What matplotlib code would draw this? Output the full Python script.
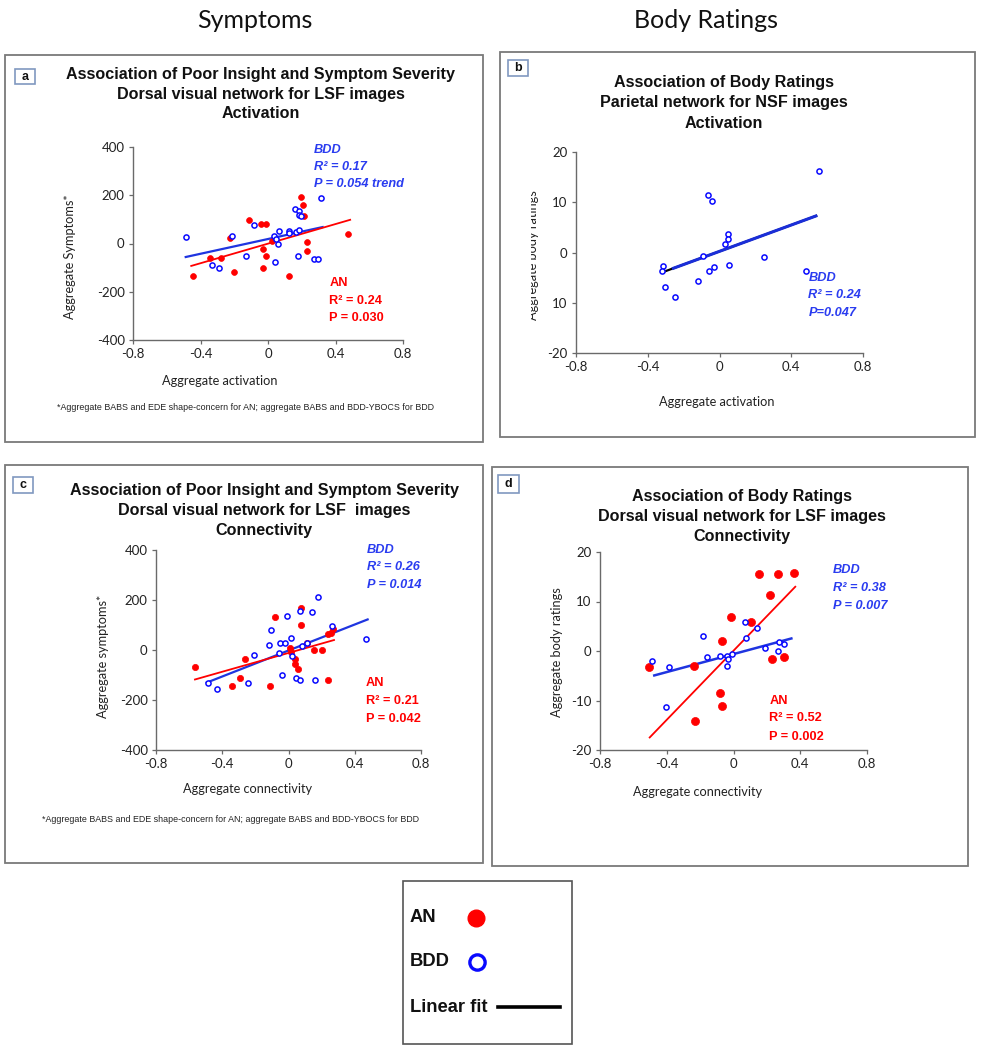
import matplotlib
matplotlib.use("Agg")
import matplotlib.pyplot as plt
import numpy as np
from matplotlib.patches import Rectangle
from matplotlib.lines import Line2D
import matplotlib.transforms as mtransforms

# ---------------- data ----------------
xticks_act = [-0.8, -0.4, 0, 0.4, 0.8]
xtick_labels = ["-0.8", "-0.4", "0", "0.4", "0.8"]
yticks_sym = [-400, -200, 0, 200, 400]
ytick_labels_sym = ["-400", "-200", "0", "200", "400"]
yticks_body = [-20, -10, 0, 10, 20]
ytick_labels_b = ["-20", "10", "0", "10", "20"]
ytick_labels_d = ["-20", "-10", "0", "10", "20"]

# panel a: activation vs symptoms
a_bdd_x = [-0.484, -0.213, -0.085, -0.130, -0.332, -0.292, 0.034, 0.040, 0.057, 0.067,
           0.122, 0.126, 0.168, 0.182, 0.158, 0.182, 0.186, 0.196, 0.178, 0.271, 0.296,
           0.316, 0.047]
a_bdd_y = [25, 32, 76, -52, -90, -103, 30, -77, 0, 51,
           51, 45, 48, 58, 141, 134, 117, 113, -52, -65, -65,
           188, 17]
a_an_x = [-0.444, -0.342, -0.277, -0.223, -0.203, -0.111, -0.040, -0.012, -0.032, -0.012,
          -0.030, 0.024, 0.122, 0.196, 0.205, 0.211, 0.231, 0.231, 0.474]
a_an_y = [-135, -62, -62, 21, -117, 97, 79, 79, -23, -51,
          -103, 10, -135, 193, 161, 114, 7, -30, 41]
a_bdd_fit = (153.0, 18.6, -0.494, 0.330)   # slope, intercept, x start, x end
a_an_fit = (203.0, -0.6, -0.460, 0.492)

# panel b: activation vs body ratings (BDD only)
b_bdd_x = [0.554, -0.065, -0.041, 0.046, 0.046, 0.028, -0.092, 0.249, 0.055, -0.031,
           -0.059, -0.314, -0.323, -0.305, -0.246, -0.120, 0.480]
b_bdd_y = [16.3, 11.5, 10.3, 3.6, 2.7, 1.6, -0.7, -0.9, -2.4, -2.9,
           -3.6, -2.7, -3.6, -6.9, -8.8, -5.7, -3.6]
b_bdd_fit = (13.1, 0.23, -0.323, 0.545)
b_blue_start = -0.265

# panel c: connectivity vs symptoms
c_bdd_x = [-0.486, -0.430, -0.246, -0.210, -0.116, -0.106, -0.056, -0.052, -0.020, -0.012,
           -0.040, 0.014, 0.024, 0.044, 0.068, 0.068, 0.084, 0.114, 0.140, 0.160,
           0.178, 0.264, 0.468]
c_bdd_y = [-130, -155, -130, -18, 20, 80, -11, 27, 30, 138,
           -99, 50, -22, -112, -119, 155, 16, 30, 151, -119,
           213, 95, 43]
c_an_x = [-0.566, -0.340, -0.292, -0.260, -0.112, -0.080, 0.010, 0.014, 0.038, 0.040,
          0.058, 0.074, 0.078, 0.114, 0.154, 0.204, 0.240, 0.254, 0.268, 0.240]
c_an_y = [-68, -143, -112, -35, -143, 134, 7, -7, -35, -54,
          -74, 100, 169, 27, 0, 0, 64, 70, 84, -119]
c_bdd_fit = (260.0, -2.0, -0.500, 0.484)
c_an_fit = (188.0, -11.8, -0.570, 0.280)

# panel d: connectivity vs body ratings
d_an_x = [-0.506, -0.236, -0.066, -0.016, -0.080, -0.070, -0.230, 0.104, 0.154, 0.264,
          0.364, 0.216, 0.228, 0.300]
d_an_y = [-3.2, -3.0, 2.1, 6.8, -8.4, -11.2, -14.1, 5.9, 15.5, 15.5,
          15.8, 11.4, -1.6, -1.3]
d_bdd_x = [-0.486, -0.386, -0.406, -0.182, -0.156, -0.080, -0.040, -0.036, -0.032, -0.006,
           0.070, 0.074, 0.140, 0.188, 0.268, 0.274, 0.300]
d_bdd_y = [-2.0, -3.2, -11.4, 3.0, -1.3, -1.0, -1.0, -3.0, -1.6, -0.7,
           5.8, 2.7, 4.6, 0.7, 0.1, 1.9, 1.4]
d_an_fit = (34.9, 0.06, -0.506, 0.374)
d_bdd_fit = (9.09, -0.62, -0.482, 0.354)

footnote = "*Aggregate BABS and EDE shape-concern for AN; aggregate BABS and BDD-YBOCS for BDD"

# ---------------- styling ----------------
RED = "#ff0000"
BLUE = "#0a0aff"
BLUE_TXT = "#2a3cf0"
BLUE_LINE = "#1f35e0"
ARIAL = "Liberation Sans"
CAL = "Lato"

plt.rcParams["font.family"] = [CAL, "DejaVu Sans"]

W, H = 983, 1050
fig = plt.figure(figsize=(W / 100, H / 100), dpi=100)
fig.patch.set_facecolor("white")


def fx(x):
    return x / W


def fy(y):
    return 1 - y / H


def add_box(x0, y0, x1, y1, ec="#7a7a7a", lw=1.3):
    fig.patches.append(Rectangle((fx(x0), fy(y1)), (x1 - x0) / W, (y1 - y0) / H,
                                 transform=fig.transFigure, fill=False, ec=ec, lw=lw))


def letter(x0, y0, x1, y1, s):
    fig.patches.append(Rectangle((fx(x0), fy(y1)), (x1 - x0) / W, (y1 - y0) / H,
                                 transform=fig.transFigure, fill=False, ec="#8098c0", lw=1.2))
    fig.text(fx((x0 + x1) / 2), fy((y0 + y1) / 2), s, ha="center", va="center",
             fontsize=9, fontweight="bold", family=ARIAL, color="#111")


def title(cx, ys, lines):
    for y, t in zip(ys, lines):
        fig.text(fx(cx), fy(y), t, ha="center", va="center", fontsize=11.6,
                 fontweight="bold", family=ARIAL, color="#111")


def make_ax(x0, y0, x1, y1, xlim, ylim, yticks, ylabels):
    ax = fig.add_axes([fx(x0), fy(y1), (x1 - x0) / W, (y1 - y0) / H])
    ax.set_xlim(*xlim)
    ax.set_ylim(*ylim)
    ax.set_xticks(xticks_act)
    ax.set_xticklabels(xtick_labels)
    ax.set_yticks(yticks)
    ax.set_yticklabels(ylabels)
    for s in ("top", "right"):
        ax.spines[s].set_visible(False)
    for s in ("left", "bottom"):
        ax.spines[s].set_color("#6a6a6a")
        ax.spines[s].set_linewidth(1.0)
    ax.tick_params(direction="out", length=3, width=0.9, color="#6a6a6a",
                   labelcolor="#222", labelsize=9.5, pad=3)
    ax.patch.set_alpha(0)
    return ax


def fitline(ax, fit, color, lw, zorder=2):
    slope, icpt, x0, x1 = fit
    xs = np.array([x0, x1])
    ax.plot(xs, slope * xs + icpt, color=color, lw=lw, zorder=zorder, solid_capstyle="butt")


def an_pts(ax, x, y, ms):
    ax.plot(x, y, ls="none", marker="o", ms=ms, mfc=RED, mec=RED, mew=0.5, zorder=3)


def bdd_pts(ax, x, y, ms):
    ax.plot(x, y, ls="none", marker="o", ms=ms, mfc="white", mec=BLUE, mew=1.1, zorder=3)


def stats(ax, x, ys, lines, color, italic):
    for y, t in zip(ys, lines):
        ax.text(x, y, t, ha="left", va="center", fontsize=9.2, fontweight="bold",
                style="italic" if italic else "normal", family=ARIAL, color=color)


# ---------------- headers ----------------
fig.text(fx(255), fy(21), "Symptoms", ha="center", va="center", fontsize=18, family=CAL, color="#111")
fig.text(fx(706), fy(21), "Body Ratings", ha="center", va="center", fontsize=18, family=CAL, color="#111")

# ---------------- panel boxes ----------------
add_box(5, 55, 483, 442)
add_box(500, 52, 975, 437)
add_box(5, 465, 483, 863)
add_box(492, 467, 968, 866)

letter(15, 69, 35, 84, "a")
letter(508, 60, 528, 76, "b")
letter(13, 477, 33, 493, "c")
letter(498, 475, 519, 493, "d")

title(261, [75, 95, 114], ["Association of Poor Insight and Symptom Severity",
                            "Dorsal visual network for LSF images", "Activation"])
title(724, [83, 103, 123], ["Association of Body Ratings",
                            "Parietal network for NSF images", "Activation"])
title(264, [491, 511, 530], ["Association of Poor Insight and Symptom Severity",
                             "Dorsal visual network for LSF  images", "Connectivity"])
title(742, [497, 517, 537], ["Association of Body Ratings",
                             "Dorsal visual network for LSF images", "Connectivity"])

# ---------------- panel a ----------------
axa = make_ax(133, 147, 403, 340, (-0.8, 0.8), (-400, 400), yticks_sym, ytick_labels_sym)
fitline(axa, a_bdd_fit, BLUE_LINE, 1.6)
fitline(axa, a_an_fit, RED, 1.3)
an_pts(axa, a_an_x, a_an_y, 4.2)
bdd_pts(axa, a_bdd_x, a_bdd_y, 3.7)
stats(axa, 0.27, [386, 317, 245], ["BDD", "R² = 0.17", "P = 0.054 trend"], BLUE_TXT, True)
stats(axa, 0.363, [-165, -237, -310], ["AN", "R² = 0.24", "P = 0.030"], RED, False)
fig.text(fx(70), fy(257), "Aggregate Symptoms*", rotation=90, ha="center", va="center", fontsize=9.2, color="#222")
fig.text(fx(220), fy(381), "Aggregate activation", ha="center", va="center", fontsize=9.2, color="#222")
fig.text(fx(57), fy(407), footnote, ha="left", va="center", fontsize=6.4, family=ARIAL, color="#222")

# ---------------- panel b ----------------
axb = make_ax(576, 152, 863, 353, (-0.8, 0.8), (-20, 20), yticks_body, ytick_labels_b)
fitline(axb, b_bdd_fit, "black", 1.6, zorder=1)
sl, ic, _, xe = b_bdd_fit
fitline(axb, (sl, ic, b_blue_start, xe), "#1a2ed8", 2.2)
bdd_pts(axb, b_bdd_x, b_bdd_y, 3.7)
stats(axb, 0.495, [-5.0, -8.5, -12.0], ["BDD", "R² = 0.24", "P=0.047"], BLUE_TXT, True)
yl = fig.text(fx(533), fy(255), "Aggregate body ratings", rotation=90, ha="center", va="center",
              fontsize=9.2, color="#222")
clip = mtransforms.TransformedBbox(mtransforms.Bbox([[fx(531), 0], [1, 1]]), fig.transFigure)
yl.set_clip_box(clip)
yl.set_clip_on(True)
fig.text(fx(717), fy(402), "Aggregate activation", ha="center", va="center", fontsize=9.2, color="#222")

# ---------------- panel c ----------------
axc = make_ax(156, 550, 421, 750, (-0.8, 0.8), (-400, 400), yticks_sym, ytick_labels_sym)
fitline(axc, c_bdd_fit, BLUE_LINE, 1.6)
fitline(axc, c_an_fit, RED, 1.3)
an_pts(axc, c_an_x, c_an_y, 4.5)
bdd_pts(axc, c_bdd_x, c_bdd_y, 3.7)
stats(axc, 0.474, [401, 334, 262], ["BDD", "R² = 0.26", "P = 0.014"], BLUE_TXT, True)
stats(axc, 0.468, [-132, -204, -274], ["AN", "R² = 0.21", "P = 0.042"], RED, False)
fig.text(fx(103), fy(656), "Aggregate symptoms*", rotation=90, ha="center", va="center", fontsize=9.2, color="#222")
fig.text(fx(248), fy(789), "Aggregate connectivity", ha="center", va="center", fontsize=9.2, color="#222")
fig.text(fx(42), fy(820), footnote, ha="left", va="center", fontsize=6.4, family=ARIAL, color="#222")

# ---------------- panel d ----------------
axd = make_ax(600, 552, 867, 750, (-0.8, 0.8), (-20, 20), yticks_body, ytick_labels_d)
fitline(axd, d_an_fit, RED, 1.3)
fitline(axd, d_bdd_fit, BLUE_LINE, 1.8)
an_pts(axd, d_an_x, d_an_y, 5.8)
bdd_pts(axd, d_bdd_x, d_bdd_y, 3.7)
stats(axd, 0.594, [16.4, 12.7, 9.1], ["BDD", "R² = 0.38", "P = 0.007"], BLUE_TXT, True)
stats(axd, 0.214, [-10.1, -13.6, -17.3], ["AN", "R² = 0.52", "P = 0.002"], RED, False)
fig.text(fx(557), fy(652), "Aggregate body ratings", rotation=90, ha="center", va="center", fontsize=9.2, color="#222")
fig.text(fx(698), fy(792), "Aggregate connectivity", ha="center", va="center", fontsize=9.2, color="#222")

# ---------------- legend ----------------
add_box(403, 881, 572, 1044, ec="#555555", lw=1.2)
leg_labels = ["AN", "BDD", "Linear fit"]
for lab, y in zip(leg_labels, [918, 961, 1007]):
    fig.text(fx(410), fy(y), lab, ha="left", va="center", fontsize=13.2, fontweight="bold",
             family=ARIAL, color="#111")
fig.lines.append(Line2D([fx(476)], [fy(918)], transform=fig.transFigure, ls="none", marker="o",
                        ms=12, mfc=RED, mec=RED))
fig.lines.append(Line2D([fx(477)], [fy(962)], transform=fig.transFigure, ls="none", marker="o",
                        ms=11, mfc="white", mec=BLUE, mew=2.4))
fig.lines.append(Line2D([fx(498), fx(560)], [fy(1007), fy(1007)], transform=fig.transFigure,
                        color="black", lw=2.6))

fig.savefig("out.png", dpi=100, facecolor="white")
